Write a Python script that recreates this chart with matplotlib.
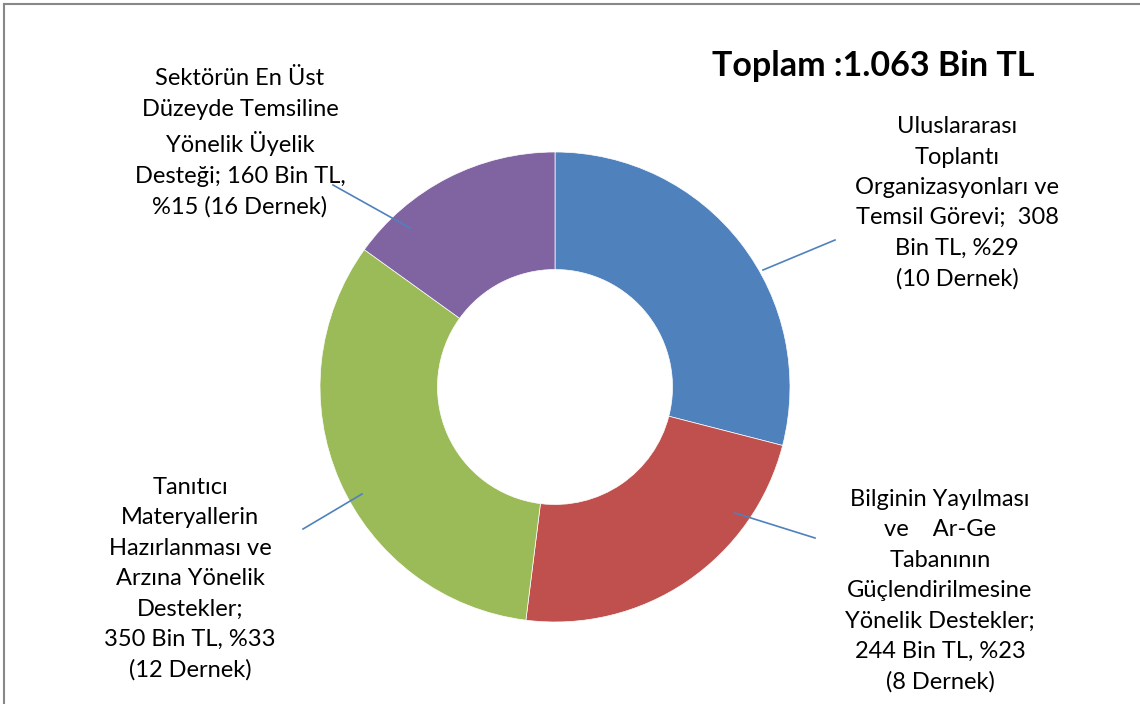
import matplotlib.pyplot as plt
from matplotlib.lines import Line2D

plt.rcParams['font.family'] = ['Lato', 'DejaVu Sans']

values = [308, 244, 350, 160]
colors = ['#4F81BD', '#C0504D', '#9BBB59', '#8064A2']
labels = [
    'Uluslararası\nToplantı\nOrganizasyonları ve\nTemsil Görevi;  308\nBin TL, %29\n(10 Dernek)',
    'Bilginin Yayılması\nve    Ar-Ge\nTabanının\nGüçlendirilmesine\nYönelik Destekler;\n244 Bin TL, %23\n(8 Dernek)',
    'Tanıtıcı\nMateryallerin\nHazırlanması ve\nArzına Yönelik\nDestekler;\n350 Bin TL, %33\n(12 Dernek)',
    'Sektörün En Üst\nDüzeyde Temsiline\nYönelik Üyelik\nDesteği; 160 Bin TL,\n%15 (16 Dernek)',
]
title = 'Toplam :1.063 Bin TL'

W, H = 1140, 704
cx, cy, R = 555, 387, 235

def to_data(px, py):
    return ((px - cx) / R, (cy - py) / R)

# label centres and leader lines (pixels)
label_pos = [(957, 203), (940, 591), (190, 579), (240, 143)]
line_start = [(763, 270), (735, 513), (362, 494), (410, 228)]
line_end = [(835, 240), (815, 538), (303, 529), (333, 185)]

fig = plt.figure(figsize=(W / 100, H / 100), dpi=100)
ax = fig.add_axes([(cx - R) / W, (H - cy - R) / H, 2 * R / W, 2 * R / H])
ax.pie(values, colors=colors, startangle=90, counterclock=False, radius=1,
       wedgeprops=dict(width=0.5, edgecolor='white', linewidth=0.5))
ax.set_xlim(-1, 1)
ax.set_ylim(-1, 1)
ax.set_aspect('equal')
ax.axis('off')

for lab, pos, s, e in zip(labels, label_pos, line_start, line_end):
    x0, y0 = to_data(*s)
    x1, y1 = to_data(*e)
    ax.plot([x0, x1], [y0, y1], color='#4F81BD', lw=1.2, clip_on=False)
    tx, ty = to_data(*pos)
    ax.text(tx, ty, lab, ha='center', va='center', fontsize=17,
            linespacing=1.55, clip_on=False)

fig.text(873 / W, 1 - 66 / H, title, ha='center', va='center',
         fontsize=24.5, fontweight='bold')

# chart area border (top and left visible)
fig.add_artist(Line2D([4 / W, 4 / W], [0, 1 - 4 / H], color='#888888', lw=1.5))
fig.add_artist(Line2D([4 / W, 1], [1 - 4 / H, 1 - 4 / H], color='#888888', lw=1.5))

fig.savefig('out.png', dpi=100, facecolor='white')
